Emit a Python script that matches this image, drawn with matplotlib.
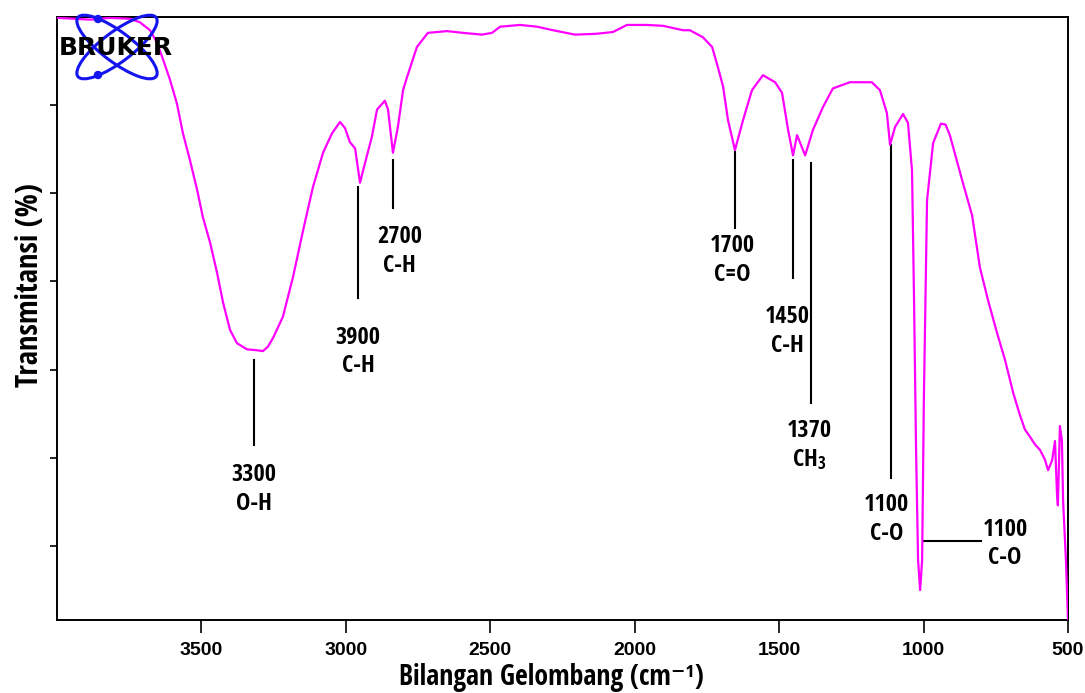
import matplotlib
matplotlib.use("Agg")
import matplotlib.pyplot as plt
from matplotlib import font_manager
from matplotlib.patches import Ellipse, Circle
from matplotlib.font_manager import FontProperties


def pick_font():
    # the reference uses a narrow bold sans; use one if it is installed
    for fam in ["Liberation Sans Narrow", "Noto Sans Condensed",
                "Open Sans Condensed", "Roboto Condensed"]:
        try:
            font_manager.findfont(FontProperties(family=fam, weight="bold"),
                                  fallback_to_default=False)
            return fam, True
        except ValueError:
            pass
    return "Liberation Sans", False


fam, narrow = pick_font()
plt.rcParams["font.family"] = [fam, "Liberation Sans", "DejaVu Sans"]
plt.rcParams["font.weight"] = "bold"
plt.rcParams["mathtext.fontset"] = "custom"
plt.rcParams["mathtext.rm"] = fam + ":bold"
plt.rcParams["mathtext.it"] = fam + ":bold"
plt.rcParams["mathtext.bf"] = fam + ":bold"

if narrow:
    fs_label, fs_xlab, fs_ylab = 17.5, 20, 22
else:
    fs_label, fs_xlab, fs_ylab = 14, 17, 18

# FTIR spectrum
wavenumber = [4000, 3938, 3886, 3817, 3747, 3713, 3678, 3654, 3633, 3609,
              3585, 3564, 3540, 3515, 3495, 3470, 3446, 3425, 3401, 3377,
              3342, 3308, 3287, 3270, 3252, 3218, 3183, 3148, 3114, 3079,
              3048, 3020, 3003, 2986, 2968, 2951, 2934, 2910, 2892, 2865,
              2854, 2837, 2820, 2802, 2788, 2754, 2716, 2650, 2594, 2529,
              2494, 2466, 2397, 2338, 2283, 2207, 2131, 2075, 2027, 1957,
              1902, 1833, 1809, 1764, 1732, 1712, 1694, 1677, 1653, 1625,
              1594, 1556, 1514, 1490, 1469, 1452, 1438, 1410, 1383, 1348,
              1314, 1255, 1179, 1151, 1127, 1116, 1099, 1071, 1054, 1040,
              1033, 1026, 1019, 1012, 1005, 999, 988, 967, 940, 924,
              909, 864, 832, 805, 777, 746, 718, 690, 667, 649, 632,
              614, 597, 580, 569, 555, 545, 538, 535, 528, 521,
              517, 507, 500]
transmitansi = [69.9, 69.8, 69.7, 69.9, 69.8, 69.4, 68.5, 67.1, 65.2, 62.9,
                60.2, 56.8, 53.8, 50.4, 47.3, 44.4, 41.0, 37.6, 34.5, 33.0,
                32.3, 32.2, 32.1, 32.6, 33.6, 36.0, 40.5, 45.8, 50.7, 54.6,
                56.8, 58.1, 57.4, 55.8, 55.1, 51.2, 53.4, 56.4, 59.5, 60.5,
                59.5, 54.6, 57.5, 61.7, 63.2, 66.6, 68.2, 68.4, 68.2, 68.0,
                68.2, 68.9, 69.1, 68.9, 68.5, 68.0, 68.1, 68.3, 69.1, 69.1,
                69.0, 68.5, 68.5, 67.7, 66.6, 64.3, 62.1, 58.3, 54.9, 58.3,
                61.7, 63.4, 62.6, 61.4, 57.2, 54.3, 56.6, 54.3, 57.2, 59.8,
                61.9, 62.6, 62.6, 61.7, 59.1, 55.5, 57.5, 59.0, 58.0, 52.6,
                37.9, 20.9, 8.4, 5.0, 8.4, 26.6, 49.2, 55.7, 57.9, 57.8,
                56.6, 51.2, 47.5, 41.6, 37.9, 34.2, 31.1, 27.4, 24.9, 23.2, 22.4,
                21.5, 20.9, 19.8, 18.6, 19.7, 21.9, 15.8, 14.6, 23.6, 21.9,
                15.1, 8.3, 1.6]

x_ticks = [3500, 3000, 2500, 2000, 1500, 1000, 500]
y_ticks = [10, 20, 30, 40, 50, 60]

# peak labels: text, marker line (wn, T_from, T_to), label centre (wn, T)
labels = ["3300\nO-H", "3900\nC-H", "2700\nC-H", "1700\nC=O",
          "1450\nC-H", "1370\nCH$_3$", "1100\nC-O"]
line_wn = [3318, 2958, 2837, 1653, 1452, 1390, 1113]
line_from = [31.1, 50.7, 53.8, 54.7, 53.8, 53.4, 55.5]
line_to = [21.5, 38.1, 48.3, 46.1, 40.4, 26.2, 17.7]
label_wn = [3318, 2958, 2815, 1663, 1473, 1397, 1127]
label_t = [16.4, 32.0, 43.4, 42.4, 34.3, 21.4, 13.0]

fig = plt.figure(figsize=(10.85, 6.93), dpi=100)
ax = fig.add_axes([57 / 1085, 1 - 620 / 693, 1011 / 1085, 603 / 693])

ax.plot(wavenumber, transmitansi, color="#ff00ff", lw=1.6, zorder=3)

for wn, t0, t1 in zip(line_wn, line_from, line_to):
    ax.plot([wn, wn], [t0, t1], color="black", lw=1.5, zorder=2)
for txt, wn, t in zip(labels, label_wn, label_t):
    ax.text(wn, t, txt, ha="center", va="center", fontsize=fs_label,
            fontweight="bold", linespacing=1.25, multialignment="center")

# second C-O label with horizontal marker
ax.plot([1002, 801], [10.6, 10.6], color="black", lw=1.5, zorder=2)
ax.text(718, 10.2, "1100\nC-O", ha="center", va="center", fontsize=fs_label,
        fontweight="bold", linespacing=1.25, multialignment="center")

ax.set_xlim(4000, 500)
ax.set_ylim(1.6, 70)
ax.set_xticks(x_ticks)
ax.set_xticklabels([str(v) for v in x_ticks], fontsize=14,
                   fontfamily=["Liberation Sans", "DejaVu Sans"],
                   fontweight="bold")
ax.set_yticks(y_ticks)
ax.tick_params(axis="x", direction="out", length=9, width=1.2, pad=7)
ax.tick_params(axis="y", direction="out", length=5, width=1.2,
               labelleft=False)
for s in ax.spines.values():
    s.set_linewidth(1.4)

fig.text(551 / 1085, 7.5 / 693, "Bilangan Gelombang (cm\u207b\u00b9)",
         ha="center", va="baseline", fontsize=fs_xlab, fontweight="bold")
fig.text(30 / 1085, 1 - 285 / 693, "Transmitansi (%)", rotation=90,
         ha="center", va="center", fontsize=fs_ylab, fontweight="bold")

# Bruker logo, one unit = one pixel
lg = fig.add_axes([50 / 1085, 1 - 85 / 693, 135 / 1085, 75 / 693])
lg.set_xlim(0, 135)
lg.set_ylim(0, 75)
lg.axis("off")
blue = "#1414ee"
for ang in (-37, 37):
    lg.add_patch(Ellipse((67, 38), 98, 30, angle=ang, fill=False,
                         edgecolor=blue, lw=2.2))
lg.add_patch(Circle((48, 66), 3.5, color=blue))
lg.add_patch(Circle((48, 10), 3.5, color=blue))
lg.text(66, 37, "BRUKER", ha="center", va="center", fontsize=18,
        family="DejaVu Sans", fontweight="heavy", color="black")

fig.savefig("out.png", dpi=100)
